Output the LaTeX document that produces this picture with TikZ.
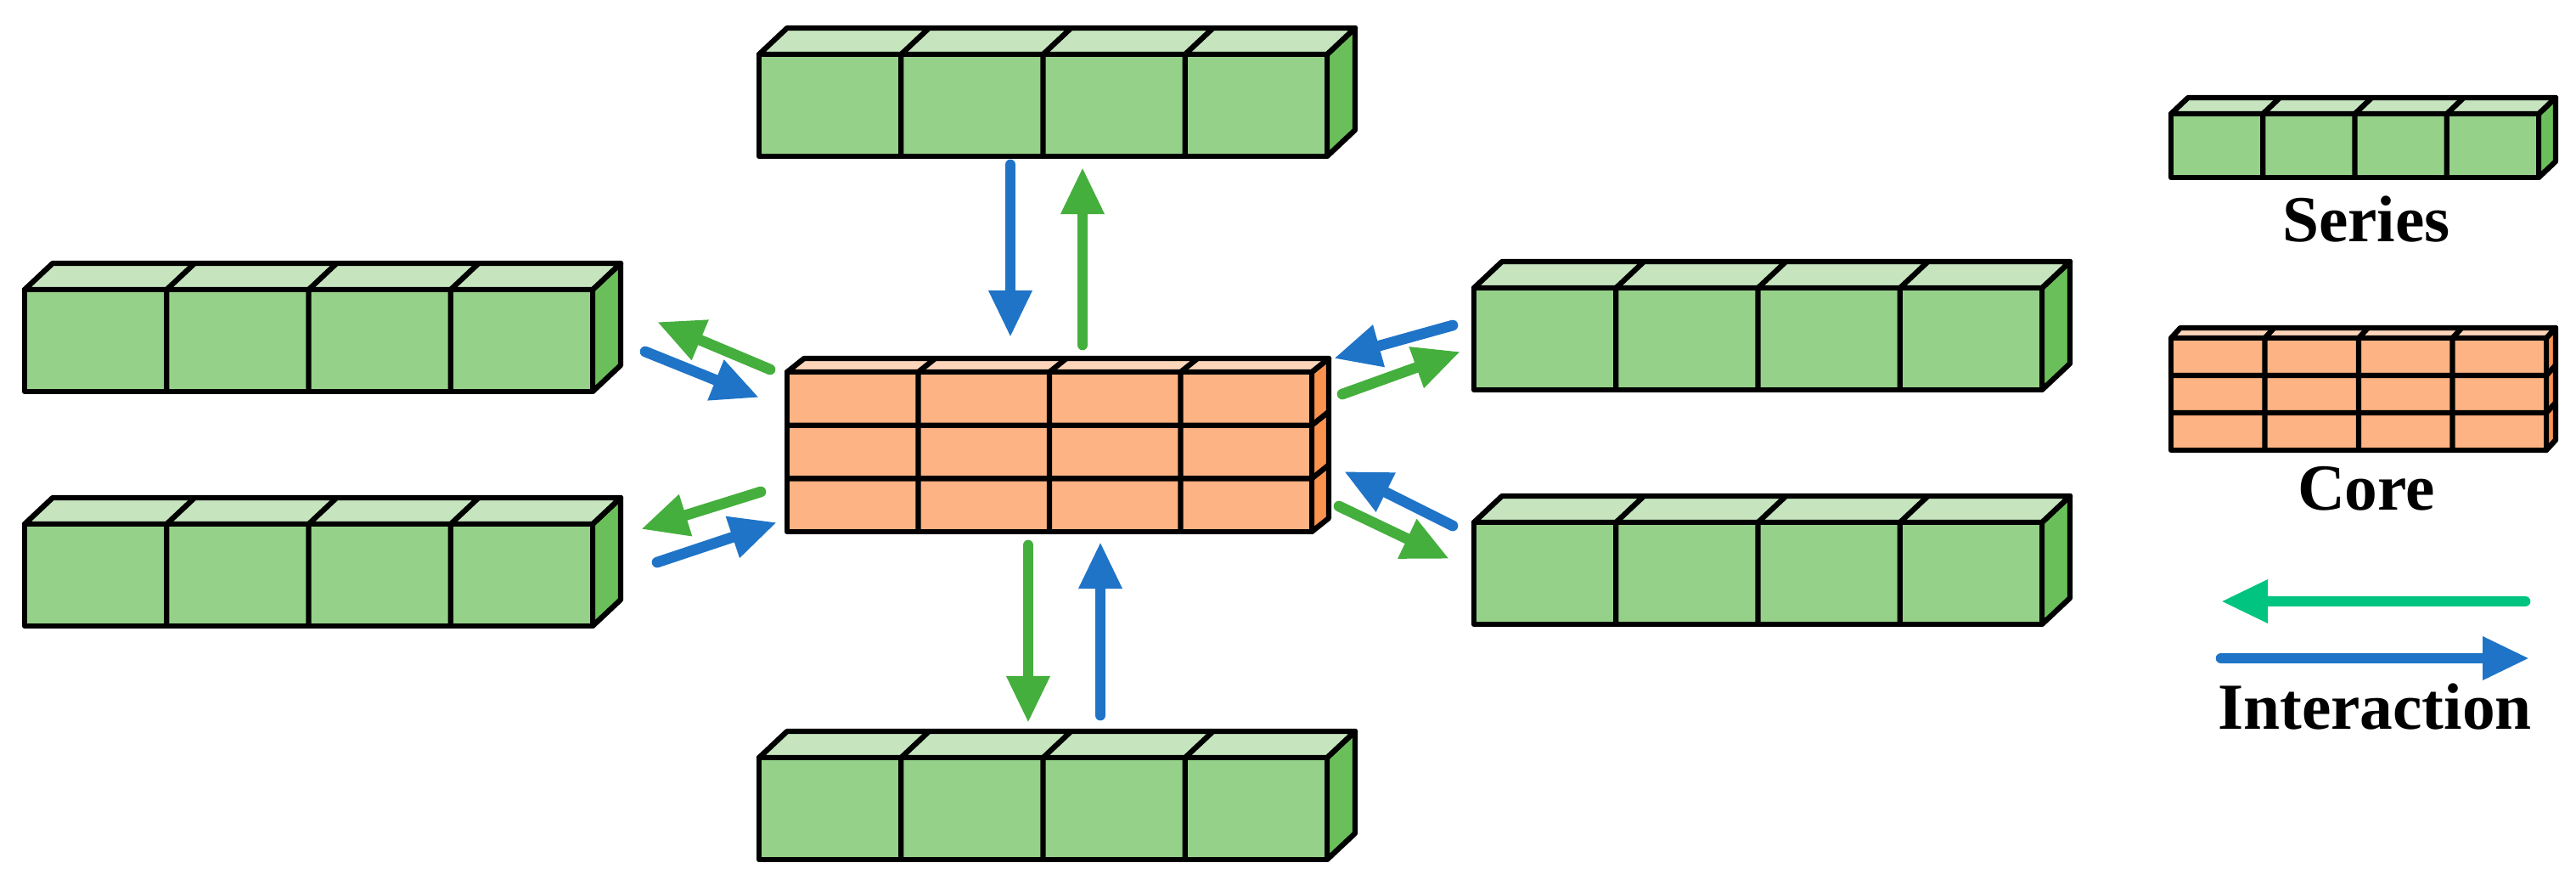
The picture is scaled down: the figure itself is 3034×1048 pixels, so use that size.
\documentclass[tikz,border=0pt]{standalone}
\usepackage{fontspec}
\setmainfont{Liberation Serif}
\usetikzlibrary{arrows.meta}
\definecolor{gF}{HTML}{96D18A}\definecolor{gT}{HTML}{C6E5BF}\definecolor{gS}{HTML}{6BBF5A}
\definecolor{oF}{HTML}{FDB383}\definecolor{oT}{HTML}{FDD5BB}\definecolor{oS}{HTML}{FB934F}
\definecolor{aB}{HTML}{1F74C7}\definecolor{aG}{HTML}{44AF3C}\definecolor{aL}{HTML}{00C480}
\newcommand{\blk}[8]{%
\begin{scope}[shift={(#1*0.01cm,-#2*0.01cm)},x=0.01cm,y=-0.01cm,line width=1.8pt,line join=round]
\filldraw[fill=#8S] (#3,0)--(#3+#5,-#6)--(#3+#5,#4-#6)--(#3,#4)--cycle;
\filldraw[fill=#8T] (0,0)--(#5,-#6)--(#3+#5,-#6)--(#3,0)--cycle;
\filldraw[fill=#8F] (0,0) rectangle (#3,#4);
\foreach \i in {1,2,3}{\draw (\i*#3/4,0)--++(0,#4) (\i*#3/4,0)--++(#5,-#6);}
\foreach \j in {1,...,#7}{\ifnum\j<#7 \draw (0,\j*#4/#7)--(#3,\j*#4/#7)--++(#5,-#6);\fi}
\end{scope}}
\tikzset{ar/.style={line width=3.6pt,line cap=round,-{Triangle[length=0.55cm,width=0.48cm]}},
 lab/.style={font=\bfseries\fontsize{22}{24}\selectfont,inner sep=0pt}}
\begin{document}
\begin{tikzpicture}[x=0.01cm,y=-0.01cm]
\useasboundingbox (0,0) rectangle (3034,1048);
\blk{894}{64}{669}{120}{33}{31}{1}{g}
\blk{29}{341}{669}{120}{33}{31}{1}{g}
\blk{29}{617}{669}{120}{33}{31}{1}{g}
\blk{1736}{339}{669}{120}{33}{31}{1}{g}
\blk{1736}{615}{669}{120}{33}{31}{1}{g}
\blk{894}{892}{669}{120}{33}{31}{1}{g}
\blk{927}{438}{618}{188}{20}{16}{3}{o}
\blk{2557}{134}{433}{75}{20}{19}{1}{g}
\blk{2557}{398}{442}{132}{11}{12}{3}{o}
% arrows
\coordinate (t1) at (1190,194); \coordinate (t2) at (1190,397);
\coordinate (t3) at (1275,406); \coordinate (t4) at (1275,197);
\draw[ar,aB] (t1)--(t2); \draw[ar,aG] (t3)--(t4);
\coordinate (b1) at (1211,642); \coordinate (b2) at (1211,851);
\coordinate (b3) at (1296,842); \coordinate (b4) at (1296,638);
\draw[ar,aG] (b1)--(b2); \draw[ar,aB] (b3)--(b4);
\coordinate (l1) at (907,435); \coordinate (l2) at (774,379);
\coordinate (l3) at (760,414); \coordinate (l4) at (894,468);
\draw[ar,aG] (l1)--(l2); \draw[ar,aB] (l3)--(l4);
\coordinate (m1) at (896,579); \coordinate (m2) at (755,623);
\coordinate (m3) at (774,662); \coordinate (m4) at (915,615);
\draw[ar,aG] (m1)--(m2); \draw[ar,aB] (m3)--(m4);
\coordinate (r1) at (1711,383); \coordinate (r2) at (1571,422);
\coordinate (r3) at (1581,464); \coordinate (r4) at (1720,414);
\draw[ar,aB] (r1)--(r2); \draw[ar,aG] (r3)--(r4);
\coordinate (s1) at (1711,619); \coordinate (s2) at (1583,555);
\coordinate (s3) at (1577,596); \coordinate (s4) at (1707,658);
\draw[ar,aB] (s1)--(s2); \draw[ar,aG] (s3)--(s4);
\coordinate (g1) at (2974,708); \coordinate (g2) at (2616,708);
\coordinate (h1) at (2616,775); \coordinate (h2) at (2979,775);
\draw[ar,aL] (g1)--(g2); \draw[ar,aB] (h1)--(h2);
\node[lab] (ser) at (2787,258) {Series};
\node[lab] (cor) at (2787,575) {Core};
\node[lab] (int) at (2797,832) {Interaction};
\end{tikzpicture}
\end{document}
